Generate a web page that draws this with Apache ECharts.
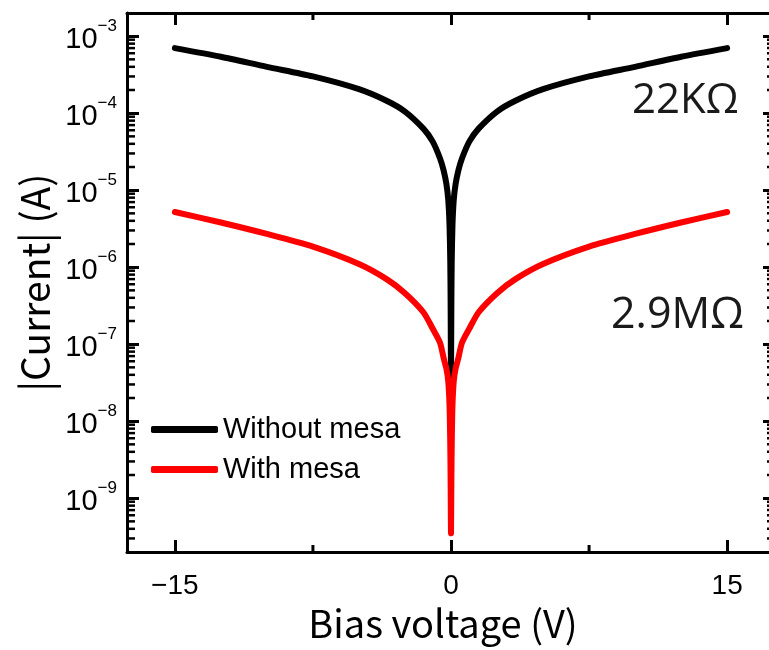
<!DOCTYPE html>
<html><head><meta charset="utf-8">
<script src="https://cdn.jsdelivr.net/npm/echarts@6/dist/echarts.min.js"></script>
<style>html,body{margin:0;padding:0;background:#fff}#c{width:769px;height:650px}</style>
</head><body><div id="c"></div>
<script>
// ---- data ----
const voltages = [-15,-12.5,-10,-7.5,-5,-3.5,-2.5,-1.5,-1,-0.6,-0.4,-0.25,-0.15,-0.08,-0.04,-0.02,0,
                  0.02,0.04,0.08,0.15,0.25,0.4,0.6,1,1.5,2.5,3.5,5,7.5,10,12.5,15];
const withoutMesa = [7.0e-4,5.4e-4,4.0e-4,3.0e-4,2.05e-4,1.45e-4,1.05e-4,6.3e-5,4.3e-5,2.6e-5,1.8e-5,1.2e-5,7.5e-6,3.5e-6,1.2e-6,3.5e-7,3.5e-8,
                     3.5e-7,1.2e-6,3.5e-6,7.5e-6,1.2e-5,1.8e-5,2.6e-5,4.3e-5,6.3e-5,1.05e-4,1.45e-4,2.05e-4,3.0e-4,4.0e-4,5.4e-4,7.0e-4];
const withMesa = [5.2e-6,3.8e-6,2.7e-6,1.85e-6,1.1e-6,7.0e-7,4.6e-7,2.6e-7,1.6e-7,1.05e-7,6.6e-8,4.8e-8,3.3e-8,1.6e-8,5e-9,1.6e-9,3.5e-10,
                  1.6e-9,5e-9,1.6e-8,3.3e-8,4.8e-8,6.6e-8,1.05e-7,1.6e-7,2.6e-7,4.6e-7,7.0e-7,1.1e-6,1.85e-6,2.7e-6,3.8e-6,5.2e-6];
const seriesNames = ['Without mesa', 'With mesa'];
const seriesColors = ['#000000', '#ff0000'];
const xTicks = [-15, 0, 15];
const xMinorTicks = [-7.5, 7.5];
const yMinorMultipliers = [2,3,4,5,6,7,8,9];
const yDecades = [-10,-9,-8,-7,-6,-5,-4,-3];
const annotations = ['22KΩ', '2.9MΩ'];
const xTitle = 'Bias voltage (V)';
const yTitle = '|Current| (A)';

const X_MIN = -17.6, X_MAX = 17.6, Y_MIN = 2e-10, Y_MAX = 2e-3;

const yMinor = [];
yDecades.forEach(k => yMinorMultipliers.forEach(m => {
  const v = m * Math.pow(10, k);
  if (v > Y_MIN * 1.0001 && v < Y_MAX * 0.9999) yMinor.push([X_MIN, v]);
}));

const FONT = '"Liberation Sans", Arial, sans-serif';
const CJK = '"Noto Sans CJK JP", "Noto Sans", sans-serif';

const chart = echarts.init(document.getElementById('c'), null, {renderer: 'canvas'});

function yLabel(v) {
  const e = Math.round(Math.log10(v));
  if (Math.abs(Math.log10(v) - e) > 1e-6) return '';
  return '{b|10}{s|\u2212' + Math.abs(e) + '}';
}

const axisLineStyle = {color: '#000', width: 3};

chart.setOption({
  animation: false,
  backgroundColor: '#fff',
  grid: {left: 127, width: 648, top: 13, height: 539, containLabel: false, outerBoundsMode: 'none'},
  xAxis: [{
    type: 'value', min: X_MIN, max: X_MAX, position: 'bottom',
    axisLine: {show: true, onZero: false, lineStyle: axisLineStyle},
    axisTick: {show: true, inside: true, length: 12, customValues: xTicks, lineStyle: {color: '#000', width: 3}},
    axisLabel: {show: true, customValues: xTicks, margin: 20, color: '#000', fontFamily: FONT, fontSize: 28,
      formatter: v => (v < 0 ? '\u2212' + Math.abs(v) : String(v))},
    splitLine: {show: false},
    name: xTitle, nameLocation: 'middle', nameGap: 49,
    nameTextStyle: {fontFamily: CJK, fontSize: 38, color: '#000', padding: [0, 16, 0, 0]}
  }, {
    type: 'value', min: X_MIN, max: X_MAX, position: 'top',
    axisLine: {show: true, onZero: false, lineStyle: axisLineStyle},
    axisTick: {show: true, inside: true, length: 12, customValues: xTicks, lineStyle: {color: '#000', width: 3}},
    axisLabel: {show: false}, splitLine: {show: false}
  }],
  yAxis: [{
    type: 'log', logBase: 10, min: Y_MIN, max: Y_MAX, position: 'left',
    axisLine: {show: true, onZero: false, lineStyle: axisLineStyle},
    axisTick: {show: true, inside: true, length: 12, lineStyle: {color: '#000', width: 3}},
    axisLabel: {show: true, margin: 10, showMinLabel: false, showMaxLabel: false, formatter: yLabel,
      rich: {
        b: {fontFamily: FONT, fontSize: 29, color: '#000', lineHeight: 36, verticalAlign: 'bottom'},
        s: {fontFamily: FONT, fontSize: 17, color: '#000', lineHeight: 17, verticalAlign: 'top'}
      }},
    splitLine: {show: false}, minorTick: {show: false},
    name: yTitle, nameLocation: 'middle', nameGap: 71,
    nameTextStyle: {fontFamily: CJK, fontSize: 39, color: '#000'}
  }, {
    type: 'log', logBase: 10, min: Y_MIN, max: Y_MAX, position: 'right',
    axisLine: {show: true, onZero: false, lineStyle: axisLineStyle},
    axisTick: {show: true, inside: true, length: 12, lineStyle: {color: '#000', width: 3}},
    axisLabel: {show: false}, splitLine: {show: false}
  }],
  legend: {
    data: seriesNames, orient: 'vertical', left: 146, top: 409,
    itemWidth: 67, itemHeight: 7, icon: 'roundRect', itemGap: 9,
    textStyle: {fontFamily: FONT, fontSize: 29, color: '#000', lineHeight: 31}
  },
  graphic: [
    {type: 'text', left: 632, top: 80, style: {text: annotations[0], font: '42px "Open Sans", "Noto Sans", sans-serif', fill: '#1a1a1a'}},
    {type: 'text', left: 611, top: 294, style: {text: annotations[1], font: '43px "Open Sans", "Noto Sans", sans-serif', fill: '#1a1a1a'}}
  ],
  series: [
    {
      name: seriesNames[0], type: 'line', xAxisIndex: 0, yAxisIndex: 0,
      data: voltages.map((v, i) => [v, withoutMesa[i]]),
      showSymbol: false, smooth: 0.25,
      lineStyle: {color: seriesColors[0], width: 6, cap: 'round', join: 'round'},
      itemStyle: {color: seriesColors[0]}, z: 3
    },
    {
      name: seriesNames[1], type: 'line', xAxisIndex: 0, yAxisIndex: 0,
      data: voltages.map((v, i) => [v, withMesa[i]]),
      showSymbol: false, smooth: 0.25,
      lineStyle: {color: seriesColors[1], width: 6, cap: 'round', join: 'round'},
      itemStyle: {color: seriesColors[1]}, z: 4
    },
    {
      type: 'custom', silent: true, xAxisIndex: 0, yAxisIndex: 0, data: yMinor, z: 5,
      renderItem: (params, api) => {
        const v = api.value(1);
        const pl = api.coord([X_MIN, v]);
        const pr = api.coord([X_MAX, v]);
        return {type: 'group', children: [
          {type: 'line', shape: {x1: pl[0], y1: pl[1], x2: pl[0] + 8, y2: pl[1]}, style: {stroke: '#000', lineWidth: 2.5}},
          {type: 'line', shape: {x1: pr[0], y1: pr[1], x2: pr[0] - 8, y2: pr[1]}, style: {stroke: '#000', lineWidth: 2.5}}
        ]};
      }
    },
    {
      type: 'custom', silent: true, xAxisIndex: 0, yAxisIndex: 0,
      data: xMinorTicks.map(v => [v, Y_MIN]), z: 5,
      renderItem: (params, api) => {
        const v = api.value(0);
        const pb = api.coord([v, Y_MIN]);
        const pt = api.coord([v, Y_MAX]);
        return {type: 'group', children: [
          {type: 'line', shape: {x1: pb[0], y1: pb[1], x2: pb[0], y2: pb[1] - 7}, style: {stroke: '#000', lineWidth: 3}},
          {type: 'line', shape: {x1: pt[0], y1: pt[1], x2: pt[0], y2: pt[1] + 7}, style: {stroke: '#000', lineWidth: 3}}
        ]};
      }
    }
  ]
});
</script>
</body></html>
